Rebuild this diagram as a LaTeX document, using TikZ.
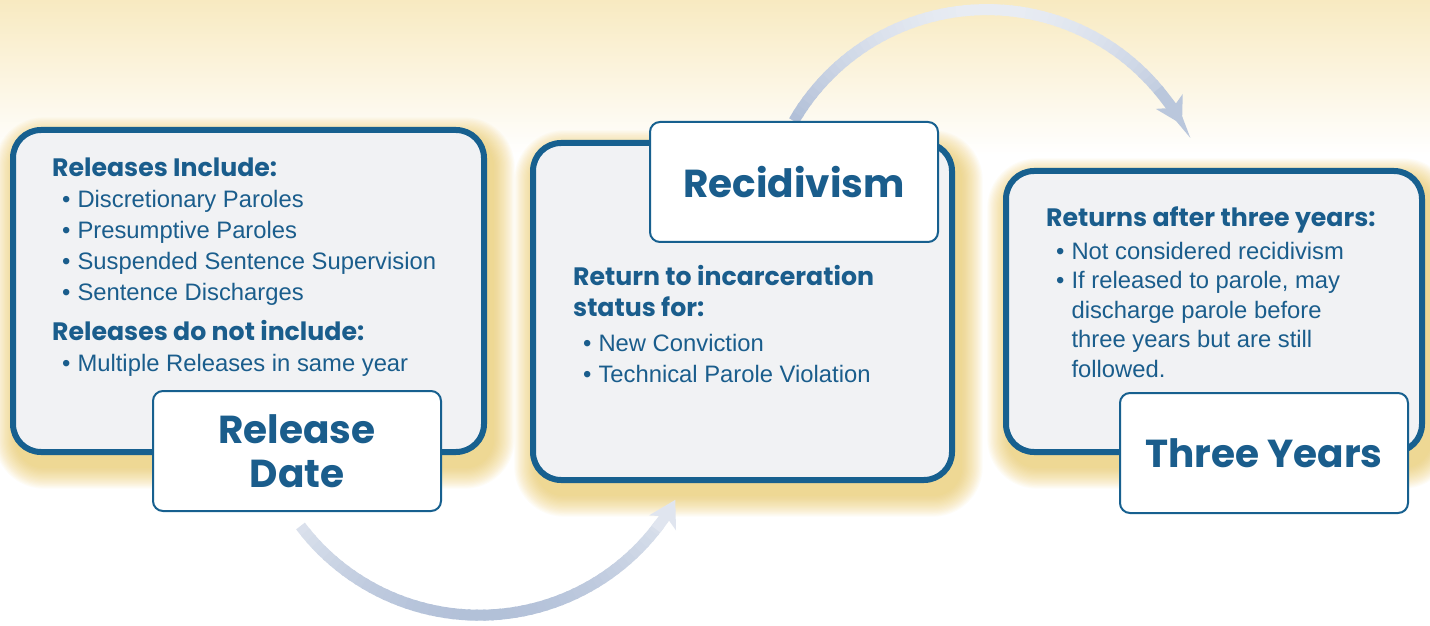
\documentclass[tikz,border=0pt]{standalone}
\usepackage{fontspec}
\setmainfont{Liberation Sans}
\newfontfamily\headfont{Poppins}
\usetikzlibrary{arrows.meta,positioning,calc,backgrounds}
\definecolor{navy}{RGB}{23,96,143}
\definecolor{inktext}{RGB}{26,93,140}
\definecolor{panel}{RGB}{241,242,244}
\definecolor{glow}{RGB}{238,200,90}
\definecolor{bgtop}{RGB}{248,234,193}
\definecolor{arrowlight}{RGB}{232,236,243}
\definecolor{arrowdark}{RGB}{178,192,216}
\newcommand{\bul}{\hspace*{10pt}\textbullet\hspace{7pt}}
\newcommand{\bulgap}{\hspace*{10pt}\phantom{\textbullet}\hspace{7pt}}
\newcommand{\headtxt}{\headfont\bfseries\fontsize{25.2}{31}\selectfont}

\begin{document}
\begin{tikzpicture}[
  x=1pt, y=1pt,
  every node/.style={text=inktext},
  panelbox/.style={draw=navy, line width=6pt, fill=panel, rounded corners=28pt},
  tagbox/.style={draw=navy, line width=2pt, fill=white, rounded corners=10pt,
                 minimum width=288pt, minimum height=120pt, align=center,
                 font=\headfont\bfseries\fontsize{39}{44}\selectfont},
  bodytext/.style={anchor=north west, inner sep=0pt, align=left,
                   font=\fontsize{23.8}{31}\selectfont},
  sweep/.style={line width=11pt},
  >=Stealth
]
\useasboundingbox (0,0) rectangle (1430,625);

% panels and their tags
\node[panelbox, minimum width=471pt, minimum height=322pt] (relpanel) at (248.5,334) {};
\node[panelbox, minimum width=419pt, minimum height=337pt] (recpanel) at (742.5,313.5) {};
\node[panelbox, minimum width=416pt, minimum height=281pt] (thrpanel) at (1214,313.5) {};

\node[tagbox] (reltag) at (297,174) {Release\\Date};
\node[tagbox] (rectag) at (794,443) {Recidivism};
\node[tagbox] (thrtag) at (1264,172) {Three Years};

\node[bodytext] (reltext) at (52,467) {%
  {\headtxt Releases Include:}\\
  \bul Discretionary Paroles\\
  \bul Presumptive Paroles\\
  \bul Suspended Sentence Supervision\\
  \bul Sentence Discharges\\[9pt]
  {\headtxt Releases do not include:}\\
  \bul Multiple Releases in same year};

\node[bodytext] (rectext) at (573,360) {%
  {\headtxt Return to incarceration}\\
  {\headtxt status for:}\\[4pt]
  \bul New Conviction\\
  \bul Technical Parole Violation};

\node[bodytext, font=\fontsize{23.8}{29.5}\selectfont] (thrtext) at (1046,418) {%
  {\headtxt Returns after three years:}\\[3pt]
  \bul Not considered recidivism\\
  \bul If released to parole, may\\
  \bulgap discharge parole before\\
  \bulgap three years but are still\\
  \bulgap followed.};

\begin{scope}[on background layer]
  \fill[white] (0,0) rectangle (1430,625);
  \shade[top color=bgtop, bottom color=white] (0,470) rectangle (1430,625);

  % yellow glow under the panels
  \foreach \p in {relpanel,recpanel,thrpanel}{
    \foreach \k in {1,...,18}{
      \fill[glow, opacity=0.05, rounded corners=28pt+1.2*\k]
        ([shift={({-1.2*\k+6},{-1.2*\k-12})}]\p.south west) rectangle
        ([shift={({1.2*\k+6},{1.2*\k-12})}]\p.north east);
    }
  }

  % lower sweep: release date -> recidivism
  \coordinate (lowc) at (479.4,233.8);
  \foreach \a in {217,219,...,321}{
    \pgfmathtruncatemacro\mix{max(0,min(100,(-sin(\a)-0.45)/0.55*100))}
    \draw[sweep, arrowdark!\mix!arrowlight] (lowc) ++(\a:224pt)
      arc[start angle=\a, end angle=\a+2.6, radius=224pt];
  }
  \draw[sweep, arrowdark!15!arrowlight, -{Stealth[length=26pt,width=30pt,inset=7pt]}]
    (lowc) ++(322:224pt) arc[start angle=322, end angle=331, radius=224pt];

  % upper sweep: recidivism -> three years
  \coordinate (upc) at (987,392.4);
  \foreach \a in {150,148,...,42}{
    \pgfmathtruncatemacro\mix{max(0,min(100,(1-sin(\a))/0.5*100))}
    \draw[sweep, arrowdark!\mix!arrowlight] (upc) ++(\a:223pt)
      arc[start angle=\a, end angle=\a-2.6, radius=223pt];
  }
  \draw[sweep, arrowdark!85!arrowlight, -{Stealth[length=26pt,width=30pt,inset=7pt]}]
    (upc) ++(40:223pt) arc[start angle=40, end angle=29, radius=223pt];
\end{scope}
\end{tikzpicture}
\end{document}
